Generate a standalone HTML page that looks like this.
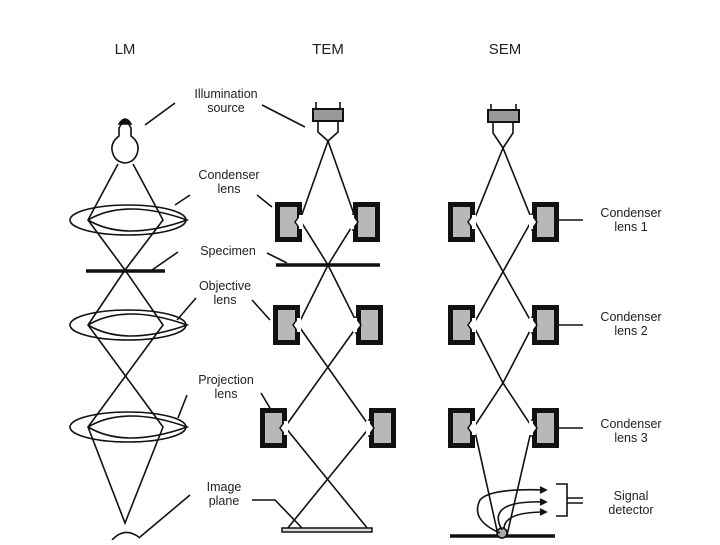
<!DOCTYPE html>
<html><head><meta charset="utf-8"><style>
body{margin:0;background:#fff}
svg text{font-family:"Liberation Sans",Arial,sans-serif;fill:#222;text-anchor:middle}
</style></head><body>
<svg width="720" height="540" viewBox="0 0 720 540" xmlns="http://www.w3.org/2000/svg">
<defs>
<g id="mL"><rect x="2.5" y="2.5" width="22" height="35" fill="#b8b8b8" stroke="#111" stroke-width="5"/><path d="M25 13 L20 20 L25 27 Z" fill="#fff" stroke="#111" stroke-width="1.5"/><rect x="24" y="13" width="4" height="14" fill="#fff"/></g>
<g id="mR"><rect x="2.5" y="2.5" width="22" height="35" fill="#b8b8b8" stroke="#111" stroke-width="5"/><path d="M0 13 L5 20 L0 27 Z" fill="#fff" stroke="#111" stroke-width="1.5"/><rect x="-3" y="13" width="4" height="14" fill="#fff"/></g>
</defs>
<g font-size="15"><text x="125" y="54">LM</text><text x="328" y="54">TEM</text><text x="505" y="54">SEM</text></g>
<g stroke="#111" stroke-width="1.6" fill="none">
<!-- LM -->
<path d="M119 128 Q125 116 131 128 L131 136 Q139 142 138 150 Q136 162 125 163 Q114 162 112 150 Q111 142 119 136 Z"/>
<path d="M119 124 Q125 114 131 124 Z" fill="#111"/>
<ellipse cx="128" cy="220" rx="58" ry="15"/>
<path d="M88 220 Q125 198 187 220 Q125 242 88 220"/>
<ellipse cx="128" cy="325" rx="58" ry="15"/>
<path d="M88 325 Q125 303 187 325 Q125 347 88 325"/>
<ellipse cx="128" cy="427" rx="58" ry="15"/>
<path d="M88 427 Q125 405 187 427 Q125 449 88 427"/>
<path d="M118 164 L88 220 L125 270 L88 325 L163 427 L125 523 L88 427 L163 325 L125 270 L163 220 L133 164"/>
<line x1="86" y1="271" x2="165" y2="271" stroke-width="3.5"/>
<path d="M112 540 Q125 526 140 538"/>
<!-- LM leaders -->
<path d="M145 125 L175 103 M262 105 L305 127 M175 205 L190 195 M257 195 L272 207 M152 270 L178 252 M267 253 L287 263 M177 320 L196 298 M252 300 L270 320 M178 418 L187 395 M261 393 L270 408 M140 537 L190 495 M252 500 L275 500 L302 528"/>
<!-- TEM -->
<rect x="313" y="109" width="30" height="12" fill="#999" stroke-width="2"/>
<path d="M316 109 V102 M340 109 V102 M318 121 V132 L328 141 L338 132 V121"/>
<path d="M328 141 L300 220 L328 265 L358 325 L285 427 L368 529 M328 141 L356 220 L328 265 L298 325 L370 427 L287 529"/>
<line x1="276" y1="265" x2="380" y2="265" stroke-width="3.5"/>
<rect x="282" y="528" width="90" height="4" fill="#ddd" stroke-width="1.5"/>
<!-- SEM -->
<rect x="488" y="110" width="31" height="12" fill="#999" stroke-width="2"/>
<path d="M491 110 V104 M516 110 V104 M493 122 V133 L503 148 L513 133 V122"/>
<path d="M503 148 L474 220 L533 325 L503 383 M503 148 L532 220 L473 325 L503 383 L474 427 L498 535 M503 383 L532 427 L507 535"/>
<line x1="450" y1="536" x2="555" y2="536" stroke-width="3.5"/>
<circle cx="502" cy="533" r="5" fill="#aaa"/>
<path d="M500 533 Q470 520 480 500 Q490 488 545 490 M502 530 Q485 500 545 502 M504 528 Q505 512 545 512"/>
<path d="M540 487 l6 3 l-6 3 M540 499 l6 3 l-6 3 M540 509 l6 3 l-6 3" fill="#111"/>
<path d="M556 484 H567 V516 H556 M567 498 H583 M567 503 H583"/>
<path d="M558 220 H583 M558 325 H583 M558 428 H583"/>
</g>
<use href="#mL" x="275" y="202"/><use href="#mR" x="353" y="202"/>
<use href="#mL" x="273" y="305"/><use href="#mR" x="356" y="305"/>
<use href="#mL" x="260" y="408"/><use href="#mR" x="369" y="408"/>
<use href="#mL" x="448" y="202"/><use href="#mR" x="532" y="202"/>
<use href="#mL" x="448" y="305"/><use href="#mR" x="532" y="305"/>
<use href="#mL" x="448" y="408"/><use href="#mR" x="532" y="408"/>
<g font-size="12.5">
<text x="226" y="98">Illumination</text><text x="226" y="112">source</text>
<text x="229" y="179">Condenser</text><text x="229" y="193">lens</text>
<text x="228" y="255">Specimen</text>
<text x="225" y="290">Objective</text><text x="225" y="304">lens</text>
<text x="226" y="384">Projection</text><text x="226" y="398">lens</text>
<text x="224" y="491">Image</text><text x="224" y="505">plane</text>
<text x="631" y="217">Condenser</text><text x="631" y="231">lens 1</text>
<text x="631" y="321">Condenser</text><text x="631" y="335">lens 2</text>
<text x="631" y="428">Condenser</text><text x="631" y="442">lens 3</text>
<text x="631" y="500">Signal</text><text x="631" y="514">detector</text>
</g>
</svg>
</body></html>
